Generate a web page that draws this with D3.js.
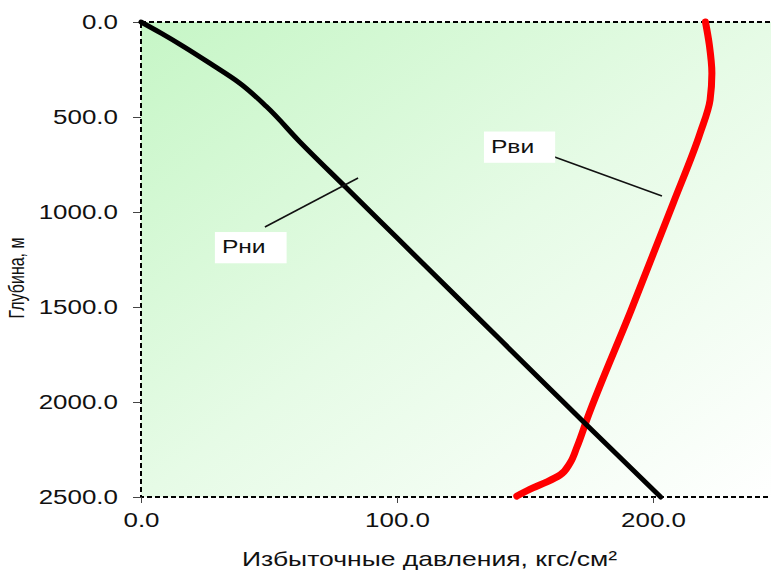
<!DOCTYPE html>
<html>
<head>
<meta charset="utf-8">
<script src="https://cdn.jsdelivr.net/npm/d3@7"></script>
<style>
  body { margin: 0; background: #fff; }
  svg { display: block; font-family: "Liberation Sans", Arial, sans-serif; }
</style>
</head>
<body>
<svg id="chart" width="771" height="570"></svg>
<script>
// давление, кгс/см2 / глубина, м
const pniPressure = [0, 8, 16.5, 27, 38.6, 49, 62, 80, 100, 130, 160, 173, 203];
const pniDepth    = [0, 60, 128, 218, 322, 445, 630, 870, 1136, 1535, 1934, 2107, 2500];

const pviPressure = [220.5, 222, 223, 222.3, 218.4, 208, 191.5, 174.5, 170.3, 167.6, 163.7, 158.6, 153.1, 146.8];
const pviDepth    = [0, 120, 270, 410, 585, 950, 1515, 2080, 2237, 2321, 2384, 2420, 2452, 2495];

const depthTicks = [0, 500, 1000, 1500, 2000, 2500];
const pressureTicks = [0, 100, 200];

// label text, label anchor (pressure, depth), leader from -> to
const labels = [
    {text: "Рни", p: 31.6, d: 1216, from: [48.4, 1079], to: [84.8, 821]},
    {text: "Рви", p: 136.7, d: 687, from: [160.5, 705], to: [203.5, 916]},
];

const svg = d3.select("#chart");
const sx = 1.33; // the picture is stretched sideways

const x = d3.scaleLinear().domain([0, 250]).range([141, 781]);
const y = d3.scaleLinear().domain([0, 2500]).range([22, 497]);

const defs = svg.append("defs");
const grad = defs.append("linearGradient")
    .attr("id", "bg")
    .attr("x1", 0).attr("y1", 0).attr("x2", 1).attr("y2", 1);
grad.append("stop").attr("offset", "0%").attr("stop-color", "#c6f6c6");
grad.append("stop").attr("offset", "50%").attr("stop-color", "#e6fbe6");
grad.append("stop").attr("offset", "100%").attr("stop-color", "#ffffff");

svg.append("rect")
    .attr("x", x(0))
    .attr("y", y(0))
    .attr("width", x(250) - x(0))
    .attr("height", y(2500) - y(0))
    .attr("fill", "url(#bg)")
    .attr("stroke", "#000")
    .attr("stroke-width", 2)
    .attr("stroke-dasharray", "5,3");

// axes
const yAxis = svg.append("g")
    .attr("transform", `translate(${x(0)},0)`)
    .call(d3.axisLeft(y).tickValues(depthTicks).tickFormat(d3.format(".1f")).tickSize(8));
yAxis.select(".domain").remove();
yAxis.selectAll("line").attr("stroke", "#444");
yAxis.selectAll("text")
    .attr("x", -23 / sx)
    .attr("dy", "0.35em")
    .attr("transform", `scale(${sx},1)`)
    .attr("fill", "#111")
    .style("font-size", "19.5px")
    .style("font-family", "'Liberation Sans', Arial, sans-serif");

const xAxis = svg.append("g")
    .attr("transform", `translate(0,${y(2500)})`)
    .call(d3.axisBottom(x).tickValues(pressureTicks).tickFormat(d3.format(".1f")).tickSize(6));
xAxis.select(".domain").remove();
xAxis.selectAll("line").attr("stroke", "#444");
xAxis.selectAll("text")
    .attr("y", 30)
    .attr("dy", 0)
    .attr("transform", `scale(${sx},1)`)
    .attr("fill", "#111")
    .style("font-size", "19.5px")
    .style("font-family", "'Liberation Sans', Arial, sans-serif");

// axis titles
svg.append("text")
    .attr("transform", `translate(24,278) scale(1.35,1) rotate(-90)`)
    .attr("text-anchor", "middle")
    .style("font-size", "16px")
    .attr("fill", "#111")
    .text("Глубина, м");

svg.append("text")
    .attr("x", 242)
    .attr("y", 566)
    .attr("textLength", 375)
    .attr("lengthAdjust", "spacingAndGlyphs")
    .style("font-size", "21px")
    .attr("fill", "#111")
    .text("Избыточные давления, кгс/см²");

// curves
const line = d3.line()
    .x(d => x(d[0]))
    .y(d => y(d[1]))
    .curve(d3.curveMonotoneY);

svg.append("path")
    .datum(pviPressure.map((p, i) => [p, pviDepth[i]]))
    .attr("fill", "none")
    .attr("stroke", "#ff0000")
    .attr("stroke-width", 7)
    .attr("stroke-linecap", "round")
    .attr("d", line);

svg.append("path")
    .datum(pniPressure.map((p, i) => [p, pniDepth[i]]))
    .attr("fill", "none")
    .attr("stroke", "#000")
    .attr("stroke-width", 5)
    .attr("stroke-linecap", "round")
    .attr("d", line);

// labels with leaders
labels.forEach(l => {
    svg.append("line")
        .attr("x1", x(l.from[0])).attr("y1", y(l.from[1]))
        .attr("x2", x(l.to[0])).attr("y2", y(l.to[1]))
        .attr("stroke", "#111")
        .attr("stroke-width", 1.6);

    const box = svg.append("rect").attr("fill", "#fff");
    const t = svg.append("text")
        .attr("transform", `translate(${x(l.p)},${y(l.d)}) scale(${sx},1)`)
        .style("font-size", "18.5px")
        .attr("fill", "#111")
        .text(l.text);
    const bb = t.node().getBBox();
    box.attr("x", x(l.p) - 7)
        .attr("y", y(l.d) + bb.y - 4)
        .attr("width", bb.width * sx + 28)
        .attr("height", bb.height + 10);
});
</script>
</body>
</html>
